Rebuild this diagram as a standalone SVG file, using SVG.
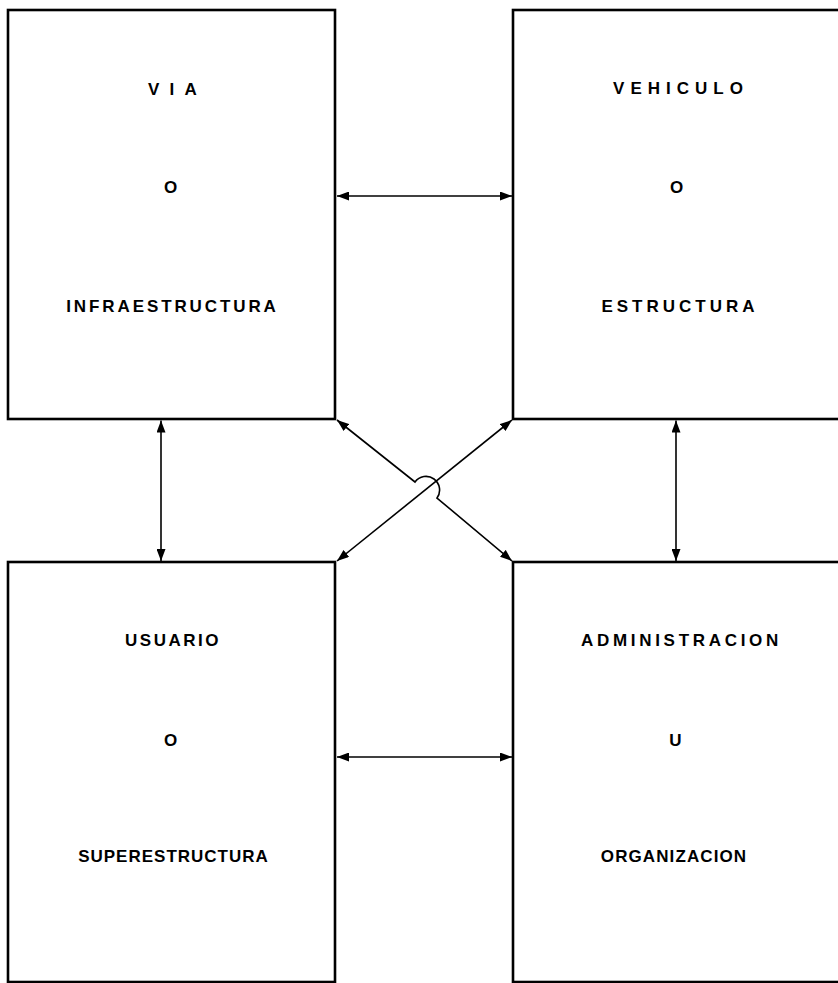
<svg xmlns="http://www.w3.org/2000/svg" width="838" height="983" viewBox="0 0 838 983">
<style>
.box{fill:#fff;stroke:#000;stroke-width:2.6}
.ln{fill:none;stroke:#000;stroke-width:1.6}
text{font-family:"Liberation Sans",Arial,sans-serif;font-size:17px;font-weight:bold;fill:#000;text-anchor:middle}
</style>
<defs>
<marker id="ah" viewBox="0 0 12 9" refX="12" refY="4.5" markerWidth="12" markerHeight="9" markerUnits="userSpaceOnUse" orient="auto-start-reverse">
<path d="M0,0 L12,4.5 L0,9 z" fill="#000"/>
</marker>
</defs>
<rect width="838" height="983" fill="#fff"/>
<g id="via">
<rect class="box" x="8" y="10" width="327" height="409"/>
<text x="177.5" y="95" style="letter-spacing:10.3px">VIA</text>
<text x="172" y="193" style="letter-spacing:3px">O</text>
<text x="172.5" y="312" style="letter-spacing:2.9px">INFRAESTRUCTURA</text>
</g>
<g id="vehiculo">
<rect class="box" x="513" y="10" width="340" height="409"/>
<text x="681" y="94" style="letter-spacing:6px">VEHICULO</text>
<text x="678" y="193" style="letter-spacing:3px">O</text>
<text x="680" y="312" style="letter-spacing:4px">ESTRUCTURA</text>
</g>
<g id="usuario">
<rect class="box" x="8" y="562" width="327" height="420"/>
<text x="173" y="646" style="letter-spacing:2.5px">USUARIO</text>
<text x="172" y="746" style="letter-spacing:3px">O</text>
<text x="173.5" y="862" style="letter-spacing:1px">SUPERESTRUCTURA</text>
</g>
<g id="administracion">
<rect class="box" x="513" y="562" width="340" height="420"/>
<text x="681.5" y="646" style="letter-spacing:3.7px">ADMINISTRACION</text>
<text x="677" y="746" style="letter-spacing:3px">U</text>
<text x="674" y="862" style="letter-spacing:1.1px">ORGANIZACION</text>
</g>
<g id="connectors">
<path class="ln" d="M337,196 L512,196" marker-start="url(#ah)" marker-end="url(#ah)"/>
<path class="ln" d="M337,757 L512,757" marker-start="url(#ah)" marker-end="url(#ah)"/>
<path class="ln" d="M161,420.5 L161,561" marker-start="url(#ah)" marker-end="url(#ah)"/>
<path class="ln" d="M676,420.5 L676,561" marker-start="url(#ah)" marker-end="url(#ah)"/>
<path class="ln" d="M337,420 L415,482 A13.5,13.5 0 0 1 437,498 L512,561" marker-start="url(#ah)" marker-end="url(#ah)"/>
<path class="ln" d="M512,420 L337,561" marker-start="url(#ah)" marker-end="url(#ah)"/>
</g>
</svg>
